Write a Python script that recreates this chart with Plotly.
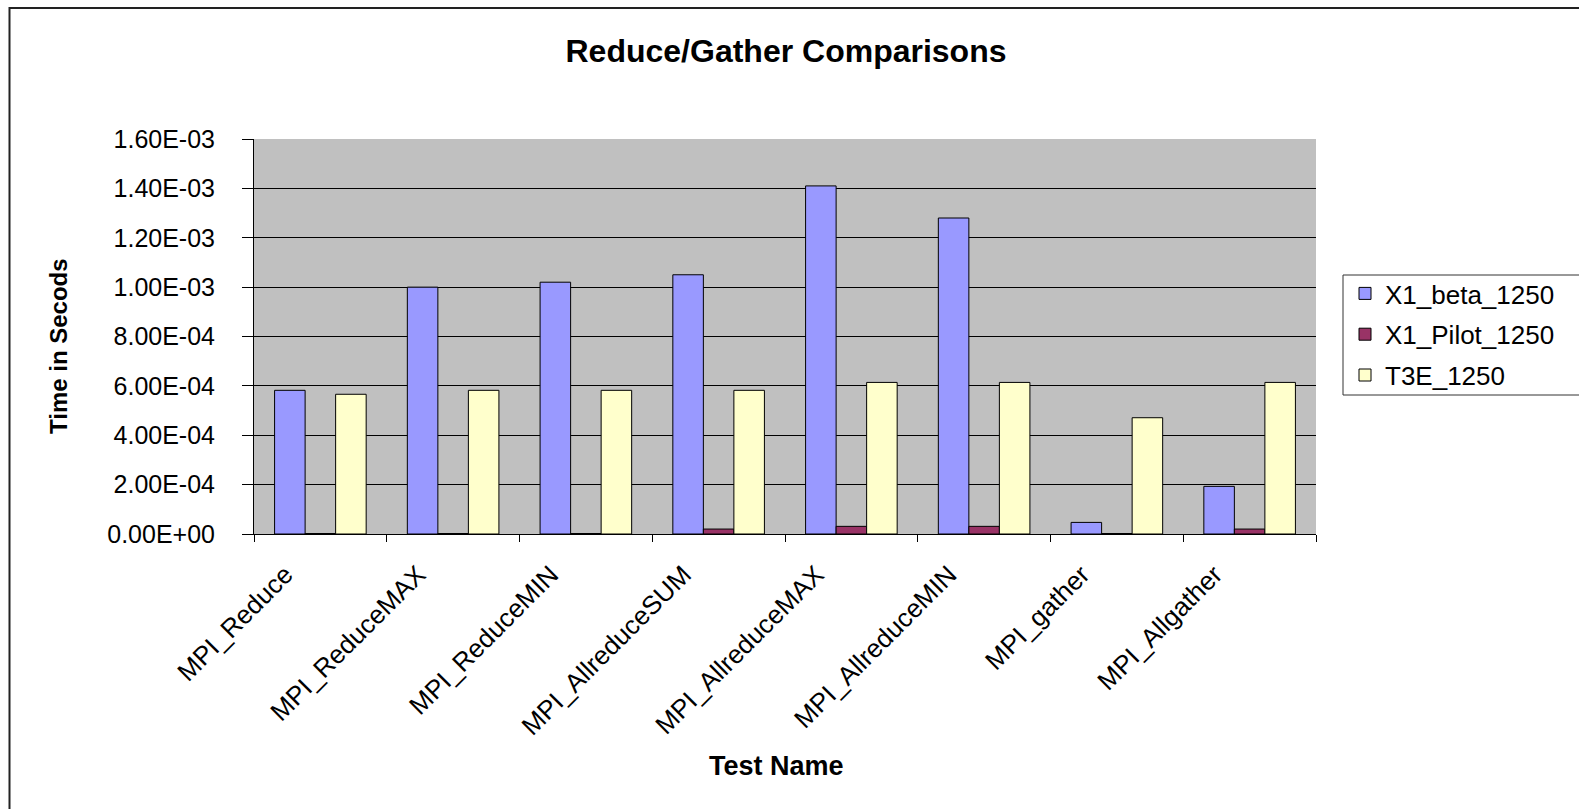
import plotly.graph_objects as go

# Benchmark results (seconds)
tests = ["MPI_Reduce", "MPI_ReduceMAX", "MPI_ReduceMIN", "MPI_AllreduceSUM",
         "MPI_AllreduceMAX", "MPI_AllreduceMIN", "MPI_gather", "MPI_Allgather"]
x1_beta = [5.82e-4, 1.00e-3, 1.02e-3, 1.05e-3, 1.41e-3, 1.28e-3, 4.7e-5, 1.93e-4]
x1_pilot = [2e-6, 2e-6, 2e-6, 2.0e-5, 3.1e-5, 3.1e-5, 2e-6, 2.0e-5]
t3e = [5.66e-4, 5.82e-4, 5.82e-4, 5.82e-4, 6.14e-4, 6.14e-4, 4.71e-4, 6.14e-4]

y_ticks = [i * 2e-4 for i in range(9)]
y_tick_text = [f"{v:.2E}" for v in y_ticks]

W, H = 1579, 809
L, R, T, B = 254, 263, 139, 275
FONT = "Liberation Sans, Arial, sans-serif"

fig = go.Figure()
series = [("X1_beta_1250", x1_beta, "#9999FF"),
          ("X1_Pilot_1250", x1_pilot, "#993366"),
          ("T3E_1250", t3e, "#FFFFCC")]
for i, (name, vals, color) in enumerate(series):
    fig.add_trace(go.Bar(
        x=tests, y=vals, name=name, legendgroup=f"g{i}",
        marker=dict(color=color, line=dict(color="#000000", width=1)),
    ))

# pixel -> plot-area paper units
pw, ph = W - L - R, H - T - B
def px_x(p):
    return (p - L) / pw
def px_y(p):
    return (H - B - p) / ph

# outer chart frame
fig.add_shape(type="rect", xref="paper", yref="paper",
              x0=px_x(9.5), x1=px_x(W + 20), y0=px_y(H + 20), y1=px_y(8),
              line=dict(color="#222222", width=2), fillcolor="rgba(0,0,0,0)",
              layer="below")
# legend frame, running off the right edge of the chart
fig.add_shape(type="rect", xref="paper", yref="paper",
              x0=px_x(1343), x1=px_x(W + 20), y0=px_y(395), y1=px_y(275),
              line=dict(color="#333333", width=1), fillcolor="#FFFFFF",
              layer="above")

fig.update_layout(
    width=W, height=H,
    margin=dict(l=L, r=R, t=T, b=B, autoexpand=False),
    paper_bgcolor="#FFFFFF",
    plot_bgcolor="#C0C0C0",
    barmode="group", bargap=0.31, bargroupgap=0.0,
    font=dict(family=FONT, color="#000000"),
    title=dict(text="<b>Reduce/Gather Comparisons</b>",
               font=dict(size=32, family=FONT),
               x=786 / W, xanchor="center", xref="container",
               y=1 - 51 / H, yanchor="middle", yref="container"),
    showlegend=True,
    legend=dict(xref="container", yref="container",
                x=1345 / W, xanchor="left", y=1 - 270 / H, yanchor="top",
                bgcolor="rgba(0,0,0,0)", borderwidth=0,
                font=dict(size=26, family=FONT),
                traceorder="grouped", tracegroupgap=4, itemwidth=30),
    xaxis=dict(
        type="category", showline=True, linecolor="#000000", linewidth=1,
        ticks="outside", ticklen=7, tickcolor="#000000", tickson="boundaries",
        tickangle=-45, tickfont=dict(size=26, family=FONT),
        ticklabelshift=-35, ticklabelstandoff=14,
        showgrid=False, zeroline=False,
    ),
    yaxis=dict(
        range=[0, 1.6e-3], tickvals=y_ticks, ticktext=y_tick_text,
        showline=True, linecolor="#000000", linewidth=1,
        ticks="outside", ticklen=11, tickcolor="#000000",
        tickfont=dict(size=25, family=FONT), ticklabelstandoff=22,
        showgrid=True, gridcolor="#000000", gridwidth=1,
        zeroline=False, mirror=False,
    ),
    annotations=[
        dict(text="<b>Test Name</b>", xref="paper", yref="paper",
             x=px_x(776), y=px_y(766), xanchor="center", yanchor="middle",
             showarrow=False, font=dict(size=27, family=FONT)),
        dict(text="<b>Time in Secods</b>", xref="paper", yref="paper",
             x=px_x(58), y=px_y(346), xanchor="center", yanchor="middle",
             textangle=-90, showarrow=False, font=dict(size=24, family=FONT)),
    ],
)

fig.write_html("out.html")
